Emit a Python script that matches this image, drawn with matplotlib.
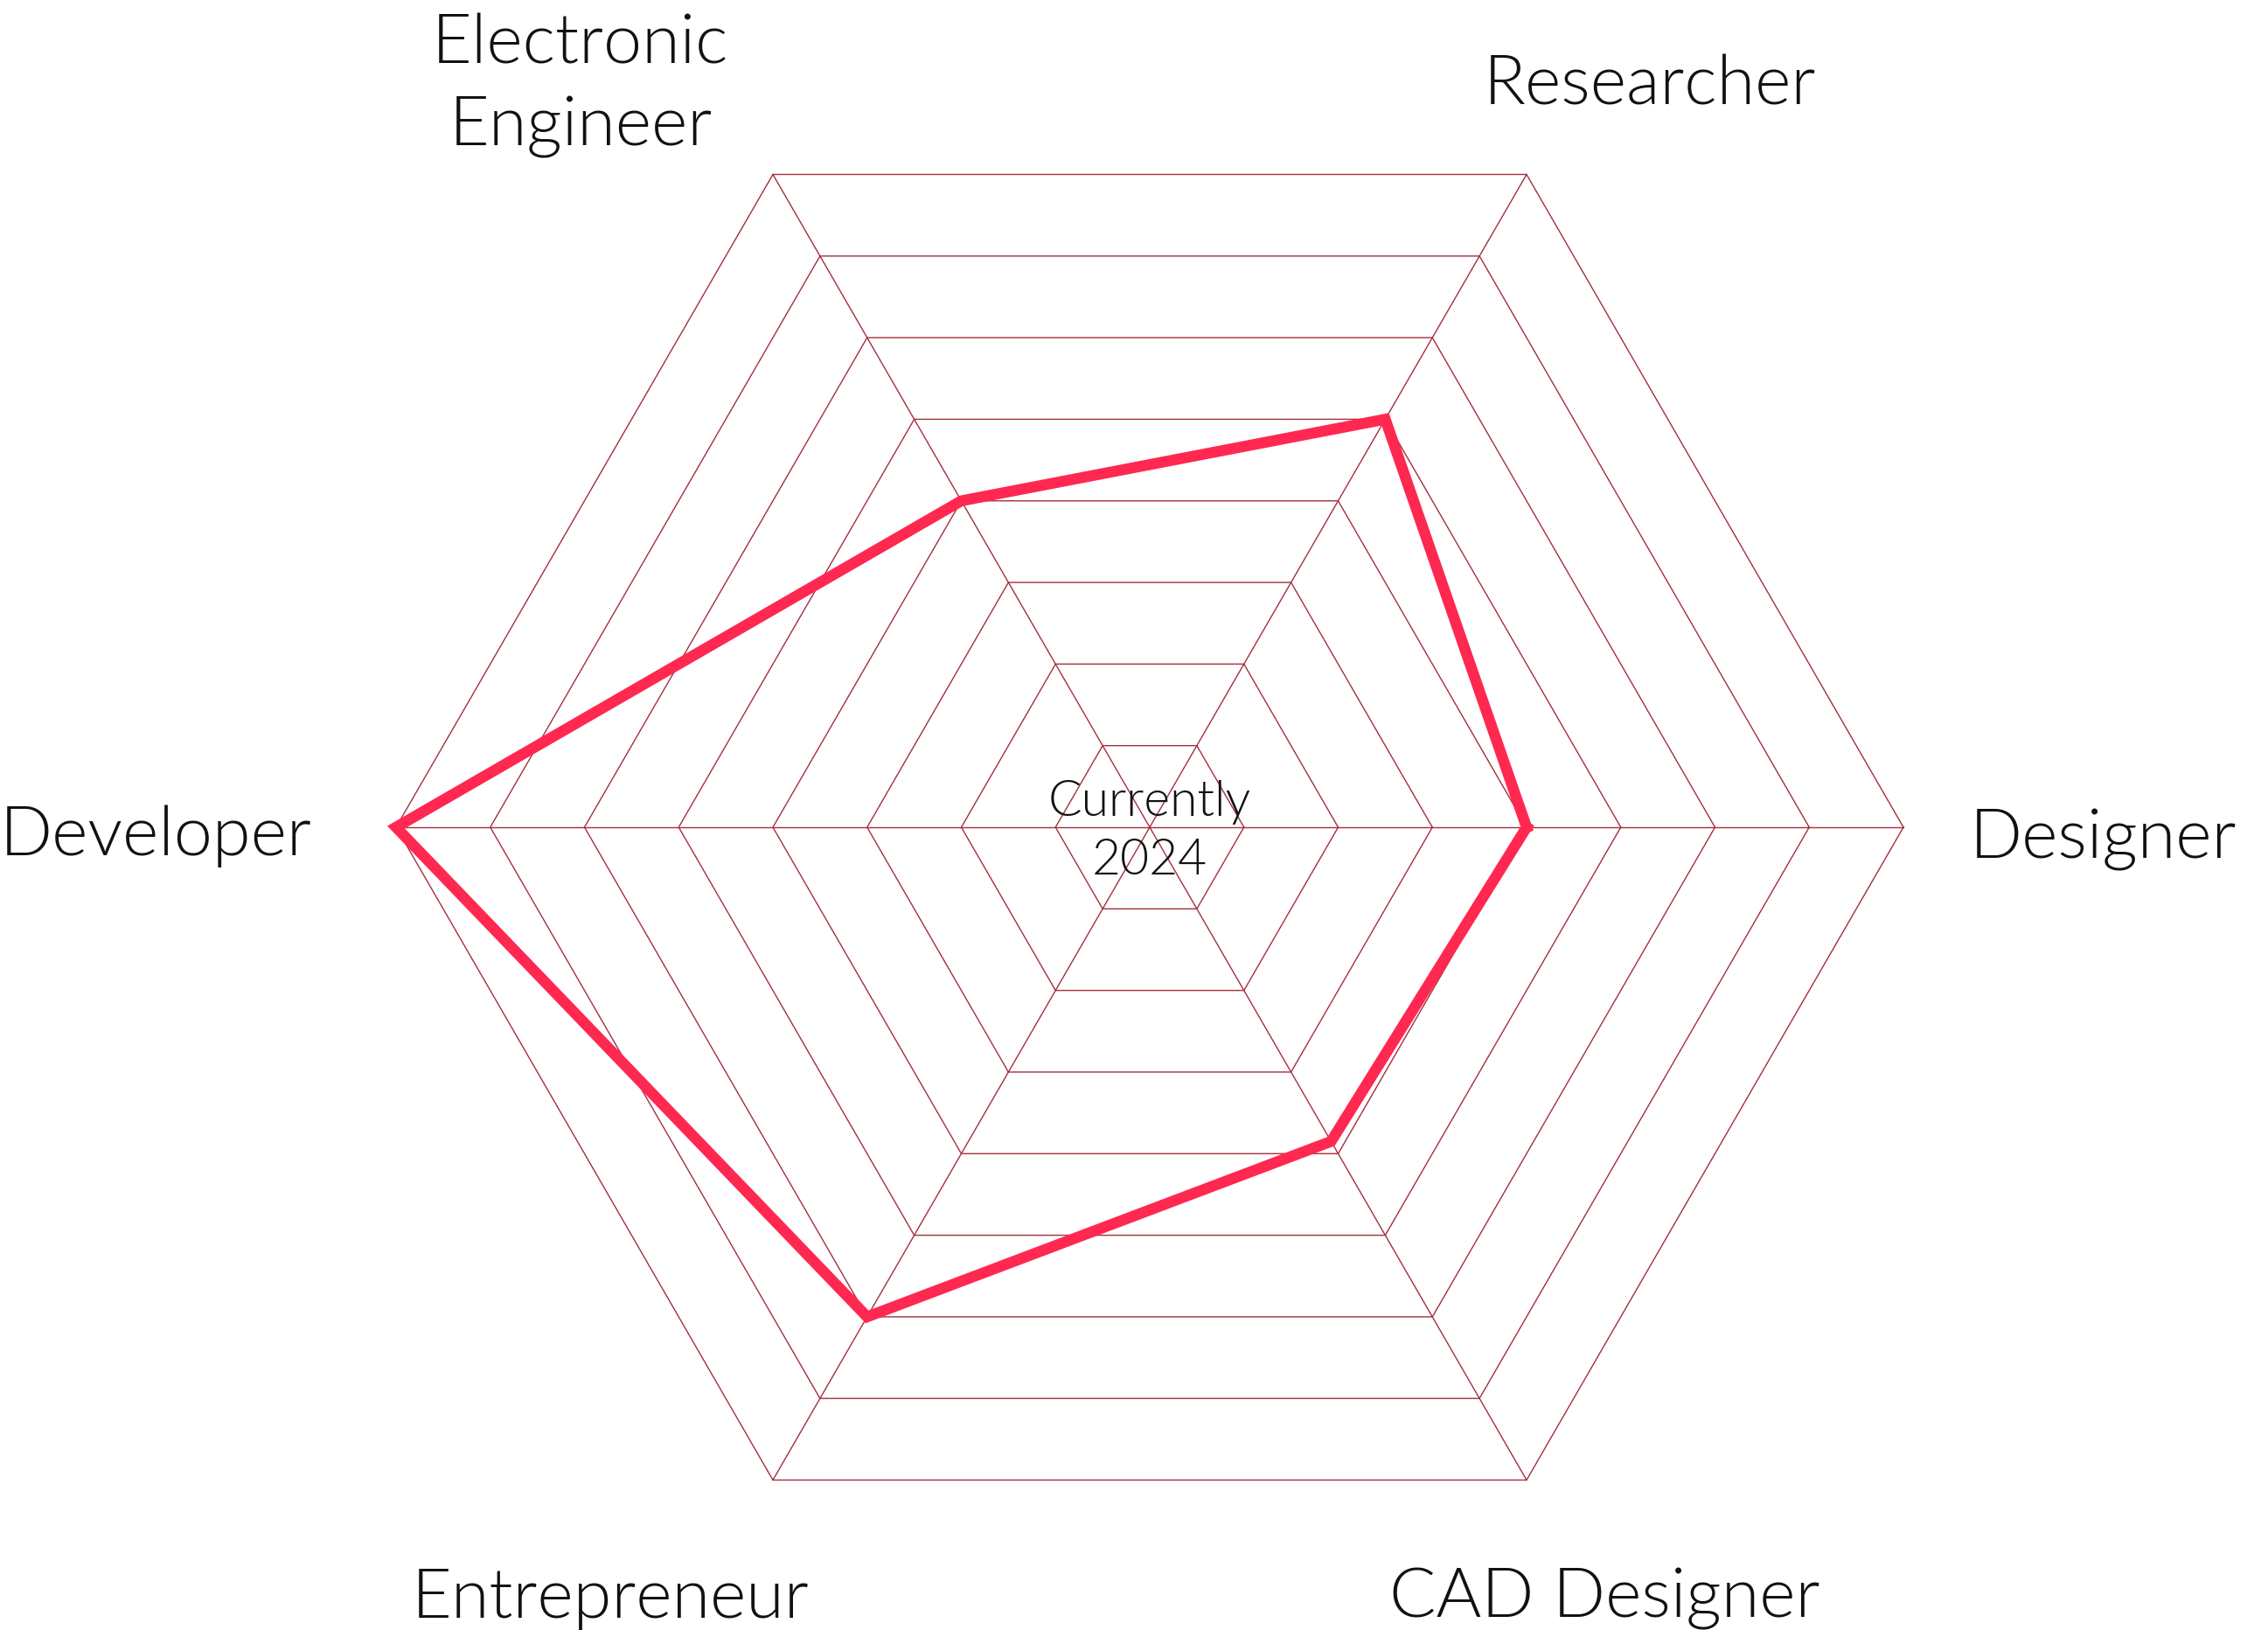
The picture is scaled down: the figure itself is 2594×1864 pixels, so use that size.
import os
import numpy as np
import matplotlib
matplotlib.use("Agg")
import matplotlib.pyplot as plt
from matplotlib import font_manager as fm

# ---- data ----
categories = ["Designer", "Researcher", "Electronic\nEngineer", "Developer", "Entrepreneur", "CAD Designer"]
values = [4, 5, 4, 8, 6, 3.85]
ring_levels = [1, 2, 3, 4, 5, 6, 7, 8]
center_text = "Currently\n2024"

# ---- font: prefer Lato Light ----
def pick_font():
    cands = []
    for f in fm.fontManager.ttflist:
        base = os.path.basename(f.fname).lower()
        if "lato" in base and "light" in base and "italic" not in base:
            cands.append(f.fname)
    if cands:
        return fm.FontProperties(fname=sorted(cands, key=len)[0])
    for f in fm.fontManager.ttflist:
        if f.name.lower().startswith("lato") and f.weight in (300, "light") and f.style == "normal":
            return fm.FontProperties(fname=f.fname)
    return fm.FontProperties(family="Lato", weight="normal")

fp = pick_font()

W, H, DPI = 2594, 1864, 100
fig = plt.figure(figsize=(W / DPI, H / DPI), dpi=DPI)
ax = fig.add_axes([0, 0, 1, 1])
ax.set_axis_off()

cx_px, cy_px = 1315, 946
unit = 107.75
ax.set_xlim(-cx_px / unit, (W - cx_px) / unit)
ax.set_ylim(-(H - cy_px) / unit, cy_px / unit)

n = len(categories)
angles = np.deg2rad(np.arange(n) * 360.0 / n)
ca, sa = np.cos(angles), np.sin(angles)

grid_color = "#a32f3c"
for r in ring_levels:
    xs = np.append(r * ca, r * ca[0])
    ys = np.append(r * sa, r * sa[0])
    ax.plot(xs, ys, color=grid_color, lw=1.0, zorder=1, solid_joinstyle="miter")
rmax = max(ring_levels)
for c, s in zip(ca, sa):
    ax.plot([0, rmax * c], [0, rmax * s], color=grid_color, lw=1.0, zorder=1)

v = np.array(values)
ax.plot(np.append(v * ca, v[0] * ca[0]), np.append(v * sa, v[0] * sa[0]),
        color="#ff2851", lw=9, zorder=3, solid_joinstyle="miter")

def px(x, y):
    return (x - cx_px) / unit, (cy_px - y) / unit

# label anchors (pixel positions; baseline of last line)
label_pos = [
    (2253, 981, "left"),
    (1887, 119, "center"),
    (664, 166, "center"),
    (357, 978, "right"),
    (698, 1850, "center"),
    (1835, 1850, "center"),
]
for lab, (x, y, ha) in zip(categories, label_pos):
    X, Y = px(x, y)
    ax.text(X, Y, lab, ha=ha, va="baseline", fontproperties=fp, fontsize=57,
            linespacing=1.39, multialignment="center", color="#111111")

X, Y = px(1315, 1000)
ax.text(X, Y, center_text, ha="center", va="baseline", fontproperties=fp, fontsize=41,
        linespacing=1.38, multialignment="center", zorder=4, color="#111111")

fig.savefig("out.png", dpi=DPI, facecolor="white")
